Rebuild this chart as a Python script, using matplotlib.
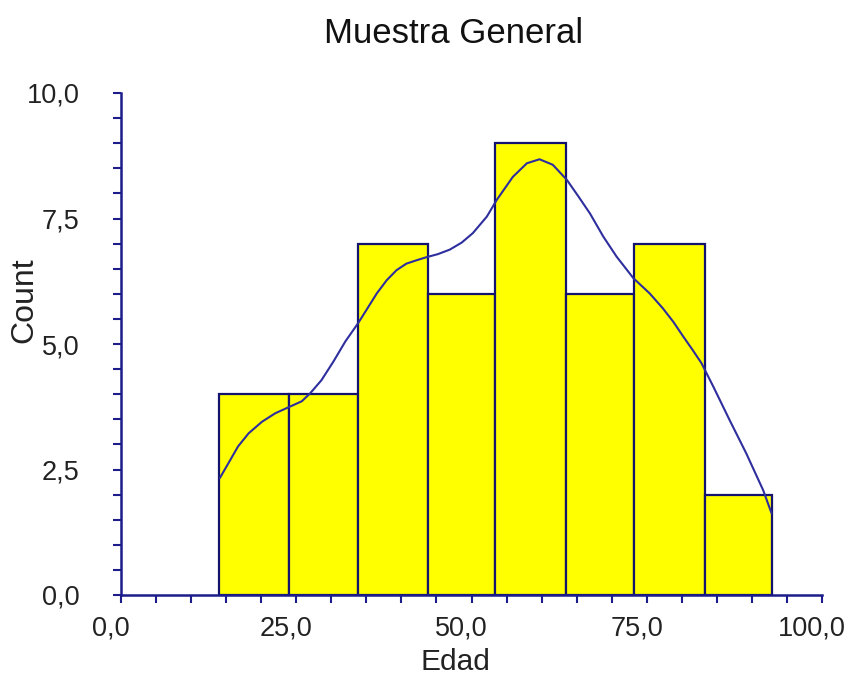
import matplotlib
matplotlib.use("Agg")
import matplotlib.pyplot as plt
import matplotlib.transforms as mtransforms
from matplotlib.ticker import MultipleLocator, FuncFormatter

plt.rcParams['font.family'] = ['Liberation Sans', 'DejaVu Sans']

# histograma de edades
bin_edges = [14.0, 24.0, 33.8, 43.8, 53.4, 63.5, 73.2, 83.3, 92.9]
counts = [4, 4, 7, 6, 9, 6, 7, 2]

# curva de densidad (escalada a frecuencias)
curve_x = [14.1, 15.3, 16.7, 18.2, 20.1, 22.0, 23.9, 25.8, 27.0, 28.6, 30.3,
           32.0, 33.8, 35.2, 36.5, 37.9, 39.3, 40.7, 42.2, 43.6, 45.2, 46.9,
           48.6, 50.2, 52.2, 53.6, 55.9, 57.9, 59.7, 61.6, 63.6, 65.2, 66.9,
           68.8, 70.7, 73.1, 75.4, 77.3, 78.8, 80.2, 81.5, 82.8, 84.5, 86.8,
           89.2, 91.6, 92.8]
curve_y = [2.33, 2.62, 2.96, 3.22, 3.45, 3.62, 3.74, 3.86, 4.02, 4.28, 4.65,
           5.05, 5.41, 5.72, 6.01, 6.27, 6.47, 6.60, 6.67, 6.73, 6.79, 6.88,
           7.02, 7.21, 7.54, 7.87, 8.33, 8.60, 8.68, 8.57, 8.27, 7.95, 7.60,
           7.14, 6.74, 6.31, 6.01, 5.71, 5.44, 5.15, 4.89, 4.62, 4.15, 3.49,
           2.82, 2.09, 1.63]

navy = '#1c1c8a'
txt = '#222222'

def coma(v, pos):
    return ('%.1f' % v).replace('.', ',')

fig = plt.figure(figsize=(8.5, 6.75), dpi=100)
ax = fig.add_axes([121/850, 80/675, 701/850, 502/675])

lefts = bin_edges[:-1]
widths = [bin_edges[i+1] - bin_edges[i] for i in range(len(counts))]
ax.bar(lefts, counts, width=widths, align='edge', color='#ffff00',
       edgecolor='#14146e', linewidth=1.6, zorder=2)
ax.plot(curve_x, curve_y, color='#2e2e9e', linewidth=1.5, zorder=3,
        solid_joinstyle='round', solid_capstyle='round')

ax.set_xlim(0, 100)
ax.set_ylim(0, 10)
for s in ['top', 'right']:
    ax.spines[s].set_visible(False)
for s in ['left', 'bottom']:
    ax.spines[s].set_color(navy)
    ax.spines[s].set_linewidth(1.8)

ax.xaxis.set_major_locator(MultipleLocator(25))
ax.xaxis.set_minor_locator(MultipleLocator(5))
ax.yaxis.set_major_locator(MultipleLocator(2.5))
ax.yaxis.set_minor_locator(MultipleLocator(0.5))
ax.xaxis.set_major_formatter(FuncFormatter(coma))
ax.yaxis.set_major_formatter(FuncFormatter(coma))

ax.tick_params(which='both', direction='out', length=5.8, width=1.5, color=navy)
ax.tick_params(axis='x', which='major', labelsize=19.5, labelcolor=txt, pad=9)
ax.tick_params(axis='y', which='major', labelsize=19.5, labelcolor=txt, pad=24)

# etiquetas del eje x un poco corridas a la izquierda
shift = mtransforms.ScaledTranslation(-0.10, 0, fig.dpi_scale_trans)
for lab in ax.get_xticklabels():
    lab.set_transform(lab.get_transform() + shift)

ax.set_xlabel('Edad', fontsize=21.5, color=txt, va='baseline')
ax.xaxis.set_label_coords((455.7 - 121) / 701, (595 - 670) / 502)
ax.set_ylabel('Count', fontsize=23, color=txt, va='center')
ax.yaxis.set_label_coords((24 - 121) / 701, (595 - 300) / 502)

fig.text(454/850, 1 - 43/675, 'Muestra General', fontsize=25, color='#111111',
         ha='center', va='baseline')

fig.savefig('out.png', dpi=100, facecolor='white')
